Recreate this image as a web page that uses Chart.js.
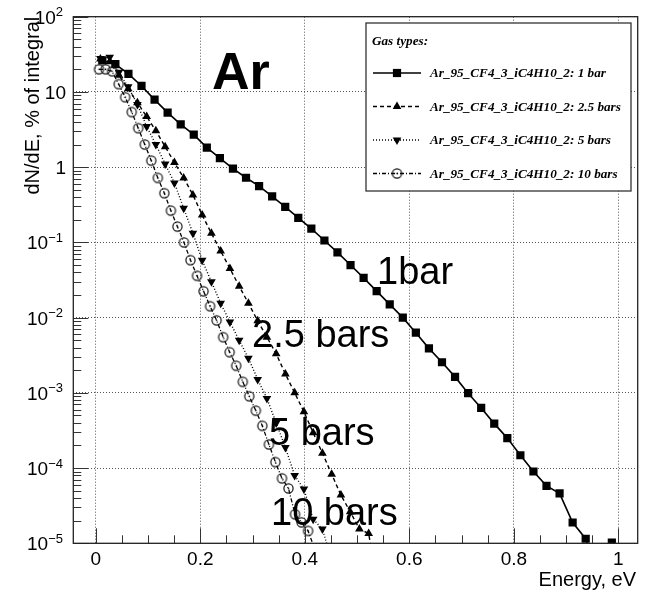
<!DOCTYPE html>
<html>
<head>
<meta charset="utf-8">
<script src="https://cdn.jsdelivr.net/npm/chart.js@4.4.1/dist/chart.umd.min.js"></script>
<style>
  html, body { margin: 0; padding: 0; background: #fff; }
  canvas { display: block; }
</style>
</head>
<body>
<canvas id="chart" width="646" height="590"></canvas>
<script>
// electron energy spectra (energy in eV, dN/dE in % of integral)
const energy1 = [0.0125, 0.0375, 0.0625, 0.0875, 0.1125, 0.1375, 0.1625, 0.1875, 0.2125, 0.2375,
    0.2625, 0.2875, 0.3125, 0.3375, 0.3625, 0.3875, 0.4125, 0.4375, 0.4625, 0.4875,
    0.5125, 0.5375, 0.5625, 0.5875, 0.6125, 0.6375, 0.6625, 0.6875, 0.7125, 0.7375,
    0.7625, 0.7875, 0.8125, 0.8375, 0.8625, 0.8875, 0.9125, 0.9375, 0.9625, 0.9875];
const dnde1 = [26.3, 23.4, 17.4, 12.0, 7.9, 5.3, 3.7, 2.7, 1.82, 1.32,
    0.955, 0.723, 0.561, 0.41, 0.297, 0.212, 0.152, 0.106, 0.0735, 0.05,
    0.0337, 0.0225, 0.015, 0.01, 0.0063, 0.0039, 0.00255, 0.00163, 0.00099, 0.00063,
    0.00039, 0.00025, 0.000148, 0.00009, 0.000058, 0.0000462, 0.0000189, 0.0000115, 0.000004, 0.0000102];

const energy25 = [0.0089, 0.0266, 0.0443, 0.062, 0.0797, 0.0974, 0.115, 0.1328, 0.1505, 0.1682,
    0.1859, 0.2036, 0.2213, 0.239, 0.2567, 0.2744, 0.2921, 0.3098, 0.3275, 0.3452,
    0.3629, 0.3806, 0.3983, 0.416, 0.4337, 0.4514, 0.4691, 0.4868, 0.5045, 0.5222, 0.54];
const dnde25 = [27.5, 25.1, 16.6, 11.0, 7.2, 4.7, 3.05, 1.87, 1.15, 0.72,
    0.428, 0.231, 0.132, 0.0766, 0.045, 0.0262, 0.0155, 0.0091, 0.0055, 0.0033,
    0.00178, 0.001, 0.00056, 0.000295, 0.000158, 0.000083, 0.0000437, 0.0000263, 0.0000155, 0.0000135, 0.0000025];

const energy5 = [0.0089, 0.0266, 0.0443, 0.062, 0.0797, 0.0974, 0.115, 0.1328, 0.1505, 0.1682,
    0.1859, 0.2036, 0.2213, 0.239, 0.2567, 0.2744, 0.2921, 0.3098, 0.3275, 0.3452,
    0.3629, 0.3806, 0.3983, 0.416, 0.4337, 0.4514];
const dnde5 = [27.9, 28.8, 18.2, 11.7, 6.8, 3.47, 2.0, 1.1, 0.617, 0.284,
    0.132, 0.058, 0.0299, 0.0155, 0.00875, 0.00499, 0.00288, 0.00151, 0.00084, 0.000398,
    0.000188, 0.0000794, 0.0000525, 0.0000209, 0.0000155, 0.0000059];

const energy10 = [0.00625, 0.01875, 0.03125, 0.04375, 0.05625, 0.06875, 0.08125, 0.09375, 0.10625, 0.11875,
    0.13125, 0.14375, 0.15625, 0.16875, 0.18125, 0.19375, 0.20625, 0.21875, 0.23125, 0.24375,
    0.25625, 0.26875, 0.28125, 0.29375, 0.30625, 0.31875, 0.33125, 0.34375, 0.35625, 0.36875,
    0.38125, 0.39375, 0.40625, 0.41875];
const dnde10 = [20, 20, 18.8, 12.7, 8.5, 5.4, 3.3, 2.0, 1.22, 0.72,
    0.45, 0.264, 0.162, 0.1, 0.058, 0.036, 0.0224, 0.01416, 0.0092, 0.0055,
    0.00347, 0.00229, 0.0014, 0.0009, 0.00058, 0.000364, 0.000206, 0.00012, 0.000073, 0.0000537,
    0.0000243, 0.000019, 0.0000146, 0.0000085];

const seriesLabels = [
    "Ar_95_CF4_3_iC4H10_2: 1 bar",
    "Ar_95_CF4_3_iC4H10_2: 2.5 bars",
    "Ar_95_CF4_3_iC4H10_2: 5 bars",
    "Ar_95_CF4_3_iC4H10_2: 10 bars"
];
const curveNames = ["1bar", "2.5 bars", "5 bars", "10 bars"];
const xTicks = [0, 0.2, 0.4, 0.6, 0.8, 1];
const yDecades = [1e-5, 1e-4, 1e-3, 1e-2, 1e-1, 1, 10, 100];
const yExponents = [-5, -4, -3, -2, -1, 0, 1, 2];

const SANS = '"Liberation Sans", Arial, sans-serif';
const SERIF = '"Liberation Serif", "Times New Roman", serif';

function ringMarker() {
    const c = document.createElement('canvas');
    c.width = 13; c.height = 13;
    const g = c.getContext('2d');
    g.strokeStyle = '#111';
    g.lineWidth = 1.2;
    g.beginPath();
    g.arc(6.5, 6.5, 4.6, 0, Math.PI * 2);
    g.stroke();
    g.fillStyle = '#111';
    g.fillRect(5.8, 5.8, 1.4, 1.4);
    return c;
}
const ring = ringMarker();

function toPoints(xs, ys) {
    return xs.map((x, i) => ({ x: x, y: ys[i] }));
}

const styles = [
    { dash: [], marker: 'rect', radius: 5.8, rot: 0, width: 1.6 },
    { dash: [4, 3], marker: 'triangle', radius: 5, rot: 0, width: 1.4 },
    { dash: [1, 2], marker: 'triangle', radius: 5, rot: 180, width: 1.4 },
    { dash: [4, 2, 1, 2], marker: ring, radius: 5, rot: 0, width: 1.3 }
];

const allData = [
    toPoints(energy1, dnde1),
    toPoints(energy25, dnde25),
    toPoints(energy5, dnde5),
    toPoints(energy10, dnde10)
];

const datasets = allData.map((pts, i) => ({
    label: seriesLabels[i],
    data: pts,
    showLine: true,
    borderColor: '#000',
    backgroundColor: '#000',
    borderWidth: styles[i].width,
    borderDash: styles[i].dash,
    pointStyle: styles[i].marker,
    pointRadius: styles[i].radius,
    pointRotation: styles[i].rot,
    pointBorderWidth: 0,
    pointBackgroundColor: '#000',
    order: 4 - i
}));

function drawMarker(ctx, i, x, y) {
    const s = styles[i];
    ctx.save();
    ctx.fillStyle = '#000';
    ctx.setLineDash([]);
    if (s.marker === 'rect') {
        const h = s.radius * Math.SQRT1_2;
        ctx.fillRect(x - h, y - h, 2 * h, 2 * h);
    } else if (s.marker === 'triangle') {
        const r = s.radius;
        let a = s.rot * Math.PI / 180;
        ctx.beginPath();
        for (let k = 0; k < 3; k++) {
            const px = x + Math.sin(a) * r, py = y - Math.cos(a) * r;
            if (k === 0) ctx.moveTo(px, py); else ctx.lineTo(px, py);
            a += 2 * Math.PI / 3;
        }
        ctx.closePath();
        ctx.fill();
    } else {
        ctx.drawImage(s.marker, x - 6.5, y - 6.5);
    }
    ctx.restore();
}

const decorations = {
    id: 'rootStyle',
    afterDatasetsDraw(chart) {
        const ctx = chart.ctx;
        const a = chart.chartArea;
        const xs = chart.scales.x, ys = chart.scales.y;
        ctx.save();

        // inward ticks
        ctx.strokeStyle = '#333';
        ctx.lineWidth = 1;
        ctx.setLineDash([]);
        ctx.beginPath();
        for (let v = 0; v <= 1.0001; v += 0.05) {
            const px = Math.round(xs.getPixelForValue(v)) + 0.5;
            const major = Math.abs(v / 0.2 - Math.round(v / 0.2)) < 1e-6;
            ctx.moveTo(px, a.bottom);
            ctx.lineTo(px, a.bottom - (major ? 15 : 8));
        }
        yDecades.forEach((d, k) => {
            const py = Math.round(ys.getPixelForValue(d)) + 0.5;
            ctx.moveTo(a.left, py);
            ctx.lineTo(a.left + 15, py);
            if (k < yDecades.length - 1) {
                for (let m = 2; m <= 9; m++) {
                    const my = Math.round(ys.getPixelForValue(d * m)) + 0.5;
                    ctx.moveTo(a.left, my);
                    ctx.lineTo(a.left + 8, my);
                }
            }
        });
        ctx.stroke();

        // frame
        ctx.strokeStyle = '#222';
        ctx.lineWidth = 1.3;
        ctx.strokeRect(a.left, a.top, a.right - a.left, a.bottom - a.top);

        // y tick labels 10^n
        ctx.fillStyle = '#000';
        ctx.textBaseline = 'alphabetic';
        yDecades.forEach((d, k) => {
            const py = ys.getPixelForValue(d);
            const e = yExponents[k];
            ctx.textAlign = 'right';
            if (e === 0 || e === 1) {
                ctx.font = '19px ' + SANS;
                ctx.fillText(e === 0 ? '1' : '10', 66, py + 7);
            } else {
                const sup = (e < 0 ? '\u2212' : '') + Math.abs(e);
                ctx.font = '13px ' + SANS;
                const w = ctx.measureText(sup).width;
                ctx.fillText(sup, 63, py - 0.5);
                ctx.font = '19px ' + SANS;
                ctx.fillText('10', 63 - w, py + 7);
            }
        });

        // axis titles
        ctx.font = '20px ' + SANS;
        ctx.textAlign = 'right';
        ctx.fillText('Energy, eV', 636, 586);
        ctx.save();
        ctx.translate(39, a.top);
        ctx.rotate(-Math.PI / 2);
        ctx.textAlign = 'right';
        ctx.fillText('dN/dE, % of integral', 0, 0);
        ctx.restore();

        // big annotations
        ctx.textAlign = 'left';
        ctx.font = 'bold 52px ' + SANS;
        ctx.fillText('Ar', 212, 89);
        ctx.font = '38px ' + SANS;
        const notePos = [[377, 284], [252, 347], [269, 445], [271, 525]];
        curveNames.forEach((t, i) => ctx.fillText(t, notePos[i][0], notePos[i][1]));

        // legend box
        const lx = 366, ly = 23, lw = 265, lh = 168;
        ctx.fillStyle = '#fff';
        ctx.fillRect(lx, ly, lw, lh);
        ctx.strokeStyle = '#333';
        ctx.lineWidth = 1.3;
        ctx.strokeRect(lx, ly, lw, lh);
        ctx.fillStyle = '#000';
        ctx.font = 'bold italic 13.2px ' + SERIF;
        ctx.textBaseline = 'middle';
        ctx.fillText('Gas types:', 372, 42);
        const rows = [73, 106.5, 140, 173.5];
        seriesLabels.forEach((lab, i) => {
            const ry = rows[i];
            ctx.strokeStyle = '#000';
            ctx.lineWidth = styles[i].width;
            ctx.setLineDash(styles[i].dash);
            ctx.beginPath();
            ctx.moveTo(373, ry);
            ctx.lineTo(421, ry);
            ctx.stroke();
            ctx.setLineDash([]);
            drawMarker(ctx, i, 397, ry);
            ctx.fillStyle = '#000';
            ctx.fillText(lab, 430, ry + 1);
        });
        ctx.restore();
    }
};

const gridStyle = { color: '#555', lineWidth: 1, drawTicks: false };

new Chart(document.getElementById('chart'), {
    type: 'scatter',
    data: { datasets: datasets },
    options: {
        responsive: false,
        animation: false,
        layout: { padding: { top: 16.7, right: 8.3, left: 0, bottom: 0 } },
        plugins: { legend: { display: false }, tooltip: { enabled: false } },
        scales: {
            x: {
                type: 'linear',
                min: -0.043,
                max: 1.037,
                afterBuildTicks: s => { s.ticks = xTicks.map(v => ({ value: v })); },
                afterFit: s => { s.height = 46.7; },
                grid: gridStyle,
                border: { display: false, dash: [1, 2] },
                ticks: {
                    padding: 5,
                    color: '#000',
                    font: { family: SANS, size: 19 },
                    maxRotation: 0,
                    callback: v => String(v)
                }
            },
            y: {
                type: 'logarithmic',
                min: 1e-5,
                max: 100,
                afterBuildTicks: s => { s.ticks = yDecades.map(v => ({ value: v })); },
                afterFit: s => { s.width = 73.3; },
                grid: gridStyle,
                border: { display: false, dash: [1, 2] },
                ticks: { display: false }
            }
        }
    },
    plugins: [decorations]
});
</script>
</body>
</html>
